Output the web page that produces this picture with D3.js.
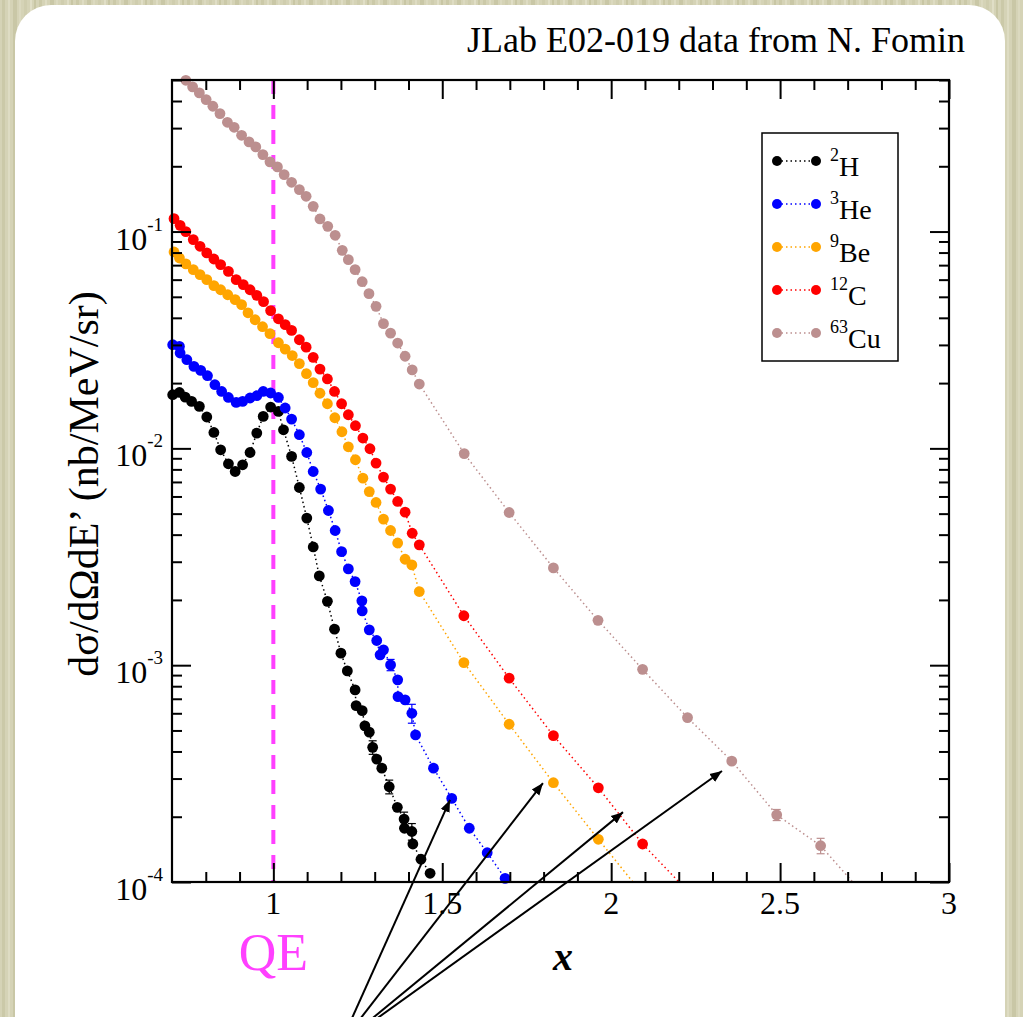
<!DOCTYPE html>
<html>
<head>
<meta charset="utf-8">
<script src="https://cdn.jsdelivr.net/npm/d3@7"></script>
<style>
  body { margin: 0; background: #d4d2b4; }
  svg { display: block; font-family: "Liberation Serif", "Times New Roman", serif; }
</style>
</head>
<body>
<svg width="1023" height="1017"></svg>
<script>
// ---- data (x = Bjorken x, y = dsigma/dOmega dE' in nb/MeV/sr)
var xH  = [0.702,0.722,0.739,0.758,0.781,0.803,0.824,0.844,0.867,0.887,0.909,0.931,0.951,0.970,0.992,1.015,1.030,1.054,1.077,1.099,1.118,1.136,1.160,1.181,1.200,1.219,1.242,1.245,1.263,1.271,1.284,1.294,1.306,1.321,1.343,1.367,1.387,1.388,1.410,1.413,1.437,1.464];
var yH  = [0.01768,0.01811,0.01724,0.01646,0.01561,0.01395,0.01184,0.00985,0.00849,0.00782,0.0084,0.00957,0.01176,0.01404,0.01551,0.0148,0.01218,0.00918,0.0066,0.00477,0.00351,0.00258,0.00197,0.001466,0.001136,0.000941,0.000769,0.000651,0.000617,0.000525,0.000491,0.000418,0.000369,0.000335,0.000275,0.000221,0.000195,0.000177,0.000171,0.0001497,0.0001273,0.0001097];

var xHe = [0.702,0.722,0.724,0.744,0.765,0.785,0.805,0.827,0.847,0.867,0.890,0.909,0.931,0.951,0.970,0.992,1.015,1.035,1.054,1.077,1.099,1.118,1.140,1.163,1.183,1.202,1.222,1.242,1.262,1.263,1.284,1.306,1.316,1.326,1.347,1.368,1.369,1.390,1.410,1.421,1.474,1.528,1.580,1.633,1.686];
var yHe = [0.03007,0.02953,0.02753,0.02564,0.02388,0.02288,0.02163,0.01966,0.0183,0.01717,0.01629,0.01646,0.01707,0.01749,0.0183,0.018,0.01717,0.01535,0.01365,0.01156,0.00957,0.00782,0.00649,0.00517,0.00418,0.00334,0.00278,0.00243,0.00198,0.00178,0.001455,0.0013,0.001116,0.001177,0.001003,0.000856,0.000716,0.000692,0.0006,0.000477,0.000335,0.000243,0.000177,0.0001365,0.000104];

var xBe = [0.706,0.722,0.741,0.763,0.783,0.803,0.824,0.844,0.865,0.887,0.906,0.925,0.946,0.968,0.990,1.015,1.035,1.056,1.077,1.098,1.118,1.138,1.160,1.182,1.203,1.222,1.243,1.265,1.284,1.304,1.326,1.347,1.368,1.390,1.410,1.432,1.564,1.698,1.829,1.962,2.093];
var yBe = [0.0805,0.0755,0.0709,0.0667,0.0633,0.06,0.0563,0.0539,0.0511,0.0485,0.046,0.0422,0.0392,0.0364,0.0338,0.0307,0.0287,0.0268,0.0246,0.0221,0.0201,0.01796,0.01606,0.01384,0.01193,0.01017,0.00886,0.00729,0.00632,0.00563,0.00472,0.00418,0.00366,0.00308,0.0029,0.002186,0.001028,0.000534,0.000287,0.0001574,0.000088];

var xC  = [0.706,0.724,0.741,0.763,0.783,0.803,0.824,0.844,0.867,0.890,0.911,0.931,0.951,0.971,0.992,1.015,1.035,1.054,1.077,1.097,1.118,1.138,1.160,1.181,1.202,1.222,1.243,1.265,1.286,1.304,1.326,1.347,1.368,1.390,1.411,1.432,1.564,1.698,1.829,1.962,2.093,2.226];
var yC  = [0.1147,0.1068,0.0999,0.0918,0.0855,0.0797,0.0747,0.0704,0.0655,0.06,0.0569,0.0539,0.0508,0.0475,0.0432,0.0396,0.0372,0.035,0.0317,0.0293,0.0263,0.0232,0.0209,0.0183,0.01606,0.01429,0.01272,0.01116,0.00996,0.00855,0.00737,0.00649,0.00569,0.00508,0.00406,0.00359,0.00169,0.000871,0.000473,0.000272,0.0001497,0.000091];

var xCu = [0.741,0.761,0.781,0.801,0.821,0.842,0.864,0.884,0.906,0.928,0.948,0.969,0.990,1.012,1.032,1.054,1.077,1.097,1.118,1.138,1.161,1.183,1.204,1.222,1.242,1.263,1.283,1.304,1.326,1.347,1.368,1.390,1.411,1.432,1.565,1.698,1.829,1.961,2.093,2.226,2.357,2.490,2.620,2.752];
var yCu = [0.4984,0.4648,0.4361,0.4062,0.3783,0.35,0.3191,0.3026,0.2779,0.2591,0.2457,0.2264,0.2096,0.1987,0.1831,0.1687,0.1561,0.1454,0.1307,0.1143,0.1057,0.0961,0.0819,0.0742,0.0667,0.0587,0.0517,0.0452,0.0376,0.034,0.0306,0.0266,0.023,0.0198,0.00946,0.00506,0.00281,0.00161,0.000957,0.000573,0.000361,0.000204,0.000147,0.000086];

// error bars [x, y, err]
var errH  = [[1.294,0.000418,0.00003],[1.343,0.000275,0.00002],[1.387,0.000195,0.000015],[1.410,0.000171,0.000015]];
var errHe = [[1.347,0.001003,0.00006],[1.410,0.0006,0.00006]];
var errCu = [[2.490,0.000204,0.000012],[2.620,0.000147,0.000012]];

var isotopeMass = ["2", "3", "9", "12", "63"];
var isotopeName = ["H", "He", "Be", "C", "Cu"];

var xMajor = [1, 1.5, 2, 2.5, 3];
var yMajor = [1e-4, 1e-3, 1e-2, 1e-1];
var yExp   = ["-4", "-3", "-2", "-1"];

// arrows: tips in data coordinates, all starting from one point below the axis
var arrowFrom = [1.197, 1.77e-5];
var arrowTips = [[1.523, 0.000239], [1.798, 0.000286], [2.035, 0.00021], [2.328, 0.000325]];

// ---- drawing
var svg = d3.select("svg");
var colors = ["#000000", "#0000ff", "#ffa500", "#ff0000", "#bc8f8f"];

var x = d3.scaleLinear().domain([0.7, 3]).range([172, 949]);
var y = d3.scaleLog().domain([1e-4, 0.5]).range([882, 80]);

var defs = svg.append("defs");

// textured beige background
var pat = defs.append("pattern").attr("id", "paper")
  .attr("patternUnits", "userSpaceOnUse").attr("width", 37).attr("height", 1017);
pat.append("rect").attr("width", 37).attr("height", 1017).attr("fill", "#d5d3b6");
[[2,3,"#cbc9a8"],[8,2,"#dedcc3"],[13,4,"#c9c7a6"],[19,2,"#dbd9bf"],[24,3,"#cfcdae"],[30,2,"#e0dec6"],[34,2,"#c8c6a4"]]
  .forEach(function(s){
    pat.append("rect").attr("x", s[0]).attr("width", s[1]).attr("height", 1017).attr("fill", s[2]);
  });
svg.append("rect").attr("width", 1023).attr("height", 1017).attr("fill", "url(#paper)");

// white card
svg.append("rect")
  .attr("x", 15).attr("y", 5).attr("width", 990).attr("height", 1080)
  .attr("rx", 36).attr("ry", 36)
  .attr("fill", "#ffffff");

defs.append("clipPath").attr("id", "plotclip")
  .append("rect").attr("x", 172).attr("y", 80).attr("width", 777).attr("height", 802);

// QE dashed line
svg.append("line")
  .attr("x1", x(1)).attr("x2", x(1))
  .attr("y1", y(0.5)).attr("y2", y(1e-4))
  .attr("stroke", "#ff40ff").attr("stroke-width", 4)
  .attr("stroke-dasharray", "14,11");

// series
var series = [
  {xs: xH,  ys: yH,  err: errH},
  {xs: xHe, ys: yHe, err: errHe},
  {xs: xBe, ys: yBe, err: []},
  {xs: xC,  ys: yC,  err: []},
  {xs: xCu, ys: yCu, err: errCu}
];

var line = d3.line()
  .x(function(d){ return x(d.x); })
  .y(function(d){ return y(d.y); });

var plot = svg.append("g");

series.forEach(function(s, i){
  var pts = s.xs.map(function(v, j){ return {x: v, y: s.ys[j]}; });

  plot.append("path")
    .datum(pts)
    .attr("clip-path", "url(#plotclip)")
    .attr("d", line)
    .attr("fill", "none")
    .attr("stroke", colors[i])
    .attr("stroke-width", 1.5)
    .attr("stroke-dasharray", "1.5,3");

  var eb = plot.append("g").attr("stroke", colors[i]).attr("stroke-width", 1.2);
  s.err.forEach(function(e){
    var cx = x(e[0]);
    var y1 = y(e[1] - e[2]), y2 = y(e[1] + e[2]);
    eb.append("line").attr("x1", cx).attr("x2", cx).attr("y1", y1).attr("y2", y2);
    eb.append("line").attr("x1", cx - 4).attr("x2", cx + 4).attr("y1", y1).attr("y2", y1);
    eb.append("line").attr("x1", cx - 4).attr("x2", cx + 4).attr("y1", y2).attr("y2", y2);
  });

  plot.append("g").selectAll("circle")
    .data(pts.filter(function(d){ return d.y >= 1e-4 && d.y <= 0.5; }))
    .enter().append("circle")
    .attr("cx", function(d){ return x(d.x); })
    .attr("cy", function(d){ return y(d.y); })
    .attr("r", 5.4)
    .attr("fill", colors[i]);
});

// axes: ticks pointing inwards on all four sides
var xMinor = d3.range(8, 30).map(function(k){ return k / 10; })
  .filter(function(v){ return Math.abs(v * 2 - Math.round(v * 2)) > 1e-6; });
var yMinor = [];
[1e-4, 1e-3, 1e-2, 1e-1].forEach(function(dec){
  for (var k = 2; k <= 9; k++) { if (dec * k <= 0.5) yMinor.push(dec * k); }
});

function styleAxis(g){
  g.select(".domain").remove();
  g.selectAll(".tick line").attr("stroke", "#000").attr("stroke-width", 2);
  g.selectAll(".tick text").remove();
}

svg.append("g").attr("transform", "translate(0,882)")
  .call(d3.axisBottom(x).tickValues(xMajor).tickSize(-19)).call(styleAxis);
svg.append("g").attr("transform", "translate(0,882)")
  .call(d3.axisBottom(x).tickValues(xMinor).tickSize(-10)).call(styleAxis);
svg.append("g").attr("transform", "translate(0,80)")
  .call(d3.axisTop(x).tickValues(xMajor).tickSize(-19)).call(styleAxis);
svg.append("g").attr("transform", "translate(0,80)")
  .call(d3.axisTop(x).tickValues(xMinor).tickSize(-10)).call(styleAxis);
svg.append("g").attr("transform", "translate(172,0)")
  .call(d3.axisLeft(y).tickValues(yMajor).tickSize(-19)).call(styleAxis);
svg.append("g").attr("transform", "translate(172,0)")
  .call(d3.axisLeft(y).tickValues(yMinor).tickSize(-10)).call(styleAxis);
svg.append("g").attr("transform", "translate(949,0)")
  .call(d3.axisRight(y).tickValues(yMajor).tickSize(-19)).call(styleAxis);
svg.append("g").attr("transform", "translate(949,0)")
  .call(d3.axisRight(y).tickValues(yMinor).tickSize(-10)).call(styleAxis);

svg.append("rect")
  .attr("x", 172).attr("y", 80).attr("width", 777).attr("height", 802)
  .attr("fill", "none").attr("stroke", "#000").attr("stroke-width", 2.2);

// tick labels
svg.selectAll(".xlab").data(xMajor).enter().append("text")
  .attr("x", function(d){ return x(d); })
  .attr("y", 914)
  .attr("text-anchor", "middle")
  .style("font-size", "32px")
  .text(function(d){ return d; });

yMajor.forEach(function(v, i){
  var t = svg.append("text").attr("x", 163).attr("y", y(v) + 18).attr("text-anchor", "end");
  t.append("tspan").style("font-size", "32px").text("10");
  t.append("tspan").attr("dy", -19).style("font-size", "19px").text(yExp[i]);
});

// axis titles
svg.append("text")
  .attr("transform", "translate(98,484) rotate(-90)")
  .attr("text-anchor", "middle")
  .style("font-size", "42px")
  .text("d\u03c3/d\u03a9dE\u2019 (nb/MeV/sr)");

svg.append("text")
  .attr("x", 563).attr("y", 970)
  .attr("text-anchor", "middle")
  .style("font-size", "40px").style("font-weight", "bold").style("font-style", "italic")
  .text("x");

svg.append("text")
  .attr("x", x(1)).attr("y", 970)
  .attr("text-anchor", "middle")
  .attr("fill", "#ff40ff")
  .style("font-size", "52px")
  .text("QE");

svg.append("text")
  .attr("x", 965).attr("y", 52)
  .attr("text-anchor", "end")
  .style("font-size", "36px")
  .text("JLab E02-019 data from N. Fomin");

// legend
svg.append("rect")
  .attr("x", 762).attr("y", 133).attr("width", 136).attr("height", 228)
  .attr("fill", "#fff").attr("stroke", "#000").attr("stroke-width", 1.5);

isotopeName.forEach(function(nm, i){
  var ry = 161 + 43 * i;
  svg.append("line").attr("x1", 777).attr("x2", 816).attr("y1", ry).attr("y2", ry)
    .attr("stroke", colors[i]).attr("stroke-width", 1.5).attr("stroke-dasharray", "1.5,3");
  svg.append("circle").attr("cx", 777).attr("cy", ry).attr("r", 5).attr("fill", colors[i]);
  svg.append("circle").attr("cx", 816).attr("cy", ry).attr("r", 5).attr("fill", colors[i]);
  var t = svg.append("text").attr("x", 830).attr("y", ry);
  t.append("tspan").style("font-size", "18px").text(isotopeMass[i]);
  t.append("tspan").attr("dy", 15).style("font-size", "28px").text(nm);
});

// arrows
defs.append("marker").attr("id", "head")
  .attr("viewBox", "0 0 10 10").attr("refX", 10).attr("refY", 5)
  .attr("markerWidth", 6).attr("markerHeight", 6).attr("orient", "auto")
  .append("path").attr("d", "M0,1 L10,5 L0,9 Z").attr("fill", "#000");

svg.selectAll(".arrow").data(arrowTips).enter().append("line")
  .attr("x1", x(arrowFrom[0])).attr("y1", y(arrowFrom[1]))
  .attr("x2", function(d){ return x(d[0]); })
  .attr("y2", function(d){ return y(d[1]); })
  .attr("stroke", "#000").attr("stroke-width", 2)
  .attr("marker-end", "url(#head)");
</script>
</body>
</html>
